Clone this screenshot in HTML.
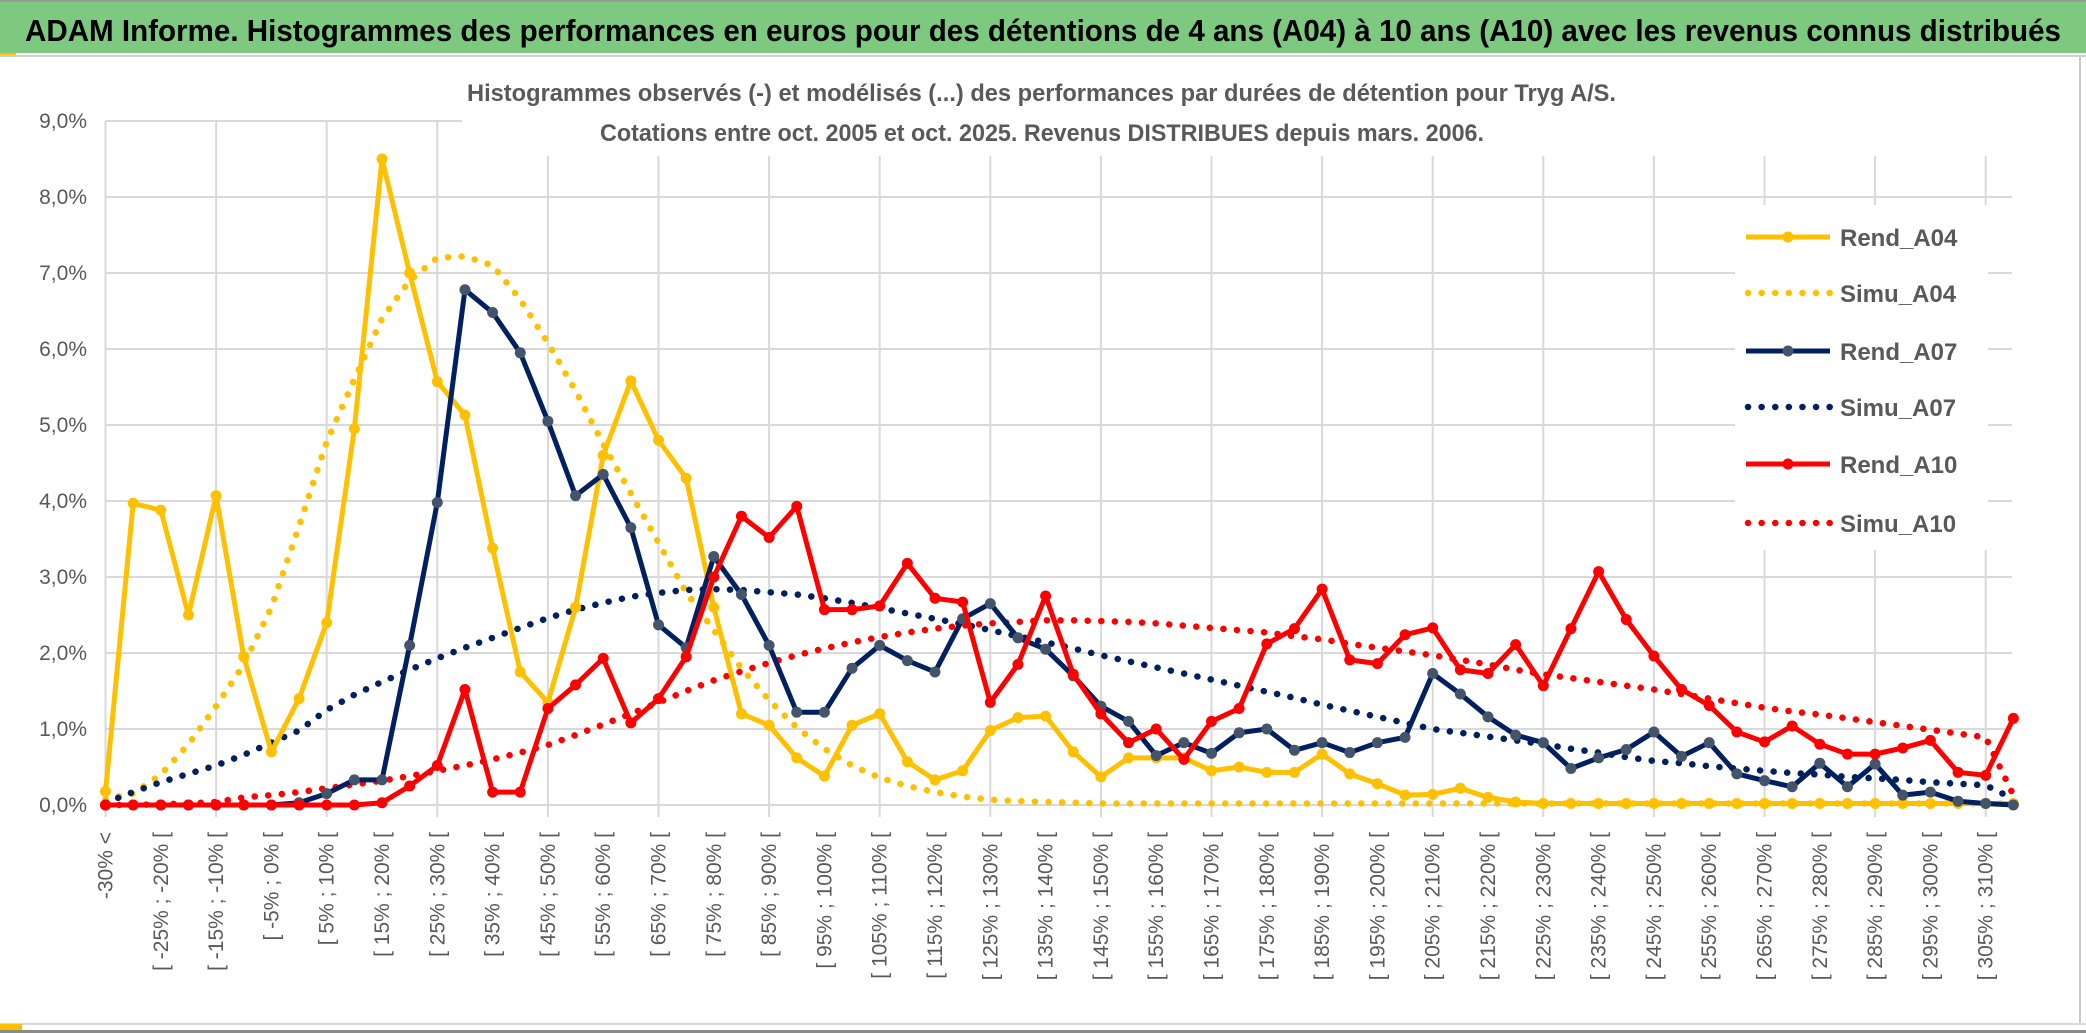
<!DOCTYPE html>
<html><head><meta charset="utf-8"><style>
html,body{margin:0;padding:0;background:#fff;}
svg{display:block;font-family:"Liberation Sans",sans-serif;}
</style></head><body>
<svg id="chart" width="2086" height="1033" viewBox="0 0 2086 1033" xmlns="http://www.w3.org/2000/svg">
<rect x="0" y="0" width="2086" height="1033" fill="#fff"/>
<rect x="0" y="0" width="2086" height="2" fill="#9a9a9a"/>
<rect x="0" y="2" width="2086" height="51" fill="#7dc97f"/>
<rect x="0" y="53" width="16" height="3" fill="#ffc000"/>
<rect x="0" y="55" width="2086" height="2" fill="#d0d0d0"/>
<text x="25" y="41" font-size="31" font-weight="bold" fill="#000" textLength="2036" lengthAdjust="spacingAndGlyphs">ADAM Informe. Histogrammes des performances en euros pour des détentions de 4 ans (A04) à 10 ans (A10) avec les revenus connus distribués</text>
<rect x="2079" y="57" width="2" height="968" fill="#c8c8c8"/>
<rect x="0" y="1023" width="2086" height="2" fill="#d8d8d8"/>
<rect x="0" y="1030" width="2086" height="3" fill="#8a8a8a"/>
<rect x="0" y="1024" width="22" height="6" fill="#ffc000"/>
<g id="grid"></g>
<rect x="462" y="72" width="1560" height="84" fill="#fff"/>
<g id="series"></g>
<g id="axes"></g>
<text x="467" y="101" font-size="24" font-weight="bold" fill="#595959" textLength="1149" lengthAdjust="spacingAndGlyphs">Histogrammes observés (-) et modélisés (...) des performances par durées de détention pour Tryg A/S.</text>
<text x="600" y="141" font-size="24" font-weight="bold" fill="#595959" textLength="884" lengthAdjust="spacingAndGlyphs">Cotations entre oct. 2005 et oct. 2025. Revenus DISTRIBUES depuis mars. 2006.</text>
<g id="legend"></g>
</svg>
<script>
// ---- data ----
const categories = [];
categories.push("-30% <");
for (let k = 1; k <= 69; k++) { categories.push("[ " + (-35 + 5 * k) + "% ; " + (-30 + 5 * k) + "% ["); }
const yTicks = [0, 1, 2, 3, 4, 5, 6, 7, 8, 9];
const yTickLabels = ["0,0%", "1,0%", "2,0%", "3,0%", "4,0%", "5,0%", "6,0%", "7,0%", "8,0%", "9,0%"];
const rendA04 = [0.18,3.97,3.88,2.5,4.07,1.95,0.7,1.4,2.4,4.95,8.5,7.0,5.57,5.13,3.38,1.75,1.35,2.6,4.6,5.58,4.8,4.3,2.6,1.2,1.05,0.62,0.38,1.05,1.2,0.57,0.33,0.45,0.98,1.15,1.17,0.7,0.37,0.62,0.62,0.62,0.45,0.5,0.43,0.43,0.67,0.41,0.28,0.13,0.14,0.22,0.1,0.04,0.02,0.02,0.02,0.02,0.02,0.02,0.02,0.02,0.02,0.02,0.02,0.02,0.02,0.02,0.02,0.02,0.02,0.02];
const rendA07 = [0,0,0,0,0,0,0,0.03,0.15,0.33,0.33,2.1,3.98,6.78,6.48,5.95,5.05,4.07,4.35,3.65,2.37,2.07,3.27,2.77,2.1,1.22,1.22,1.8,2.1,1.9,1.75,2.45,2.65,2.2,2.05,1.7,1.3,1.1,0.65,0.82,0.68,0.95,1.0,0.72,0.82,0.69,0.82,0.89,1.73,1.46,1.16,0.92,0.82,0.48,0.62,0.73,0.96,0.64,0.82,0.41,0.32,0.24,0.55,0.24,0.54,0.13,0.17,0.05,0.02,0.0];
const rendA10 = [0,0,0,0,0,0,0,0,0,0,0.03,0.25,0.52,1.52,0.17,0.17,1.27,1.58,1.93,1.08,1.4,1.95,3.0,3.8,3.52,3.93,2.57,2.57,2.62,3.18,2.72,2.67,1.35,1.85,2.75,1.72,1.2,0.82,1.0,0.6,1.1,1.27,2.12,2.32,2.84,1.91,1.86,2.24,2.33,1.78,1.73,2.11,1.57,2.32,3.07,2.44,1.96,1.52,1.31,0.96,0.83,1.04,0.8,0.67,0.67,0.75,0.85,0.43,0.39,1.14];
const simuA04 = [0.08,0.15,0.4,0.8,1.3,1.85,2.6,3.67,4.78,5.6,6.4,6.9,7.2,7.22,7.1,6.65,6.08,5.45,4.75,4.1,3.45,2.8,2.3,1.8,1.38,1.02,0.74,0.52,0.36,0.25,0.17,0.11,0.07,0.05,0.04,0.03,0.02,0.02,0.02,0.02,0.02,0.02,0.02,0.02,0.02,0.02,0.02,0.02,0.02,0.02,0.02,0.02,0.02,0.02,0.02,0.02,0.02,0.02,0.02,0.02,0.02,0.02,0.02,0.02,0.02,0.02,0.02,0.02,0.02,0.02];
const simuA07 = [0.03,0.17,0.3,0.41,0.52,0.66,0.82,0.98,1.25,1.45,1.62,1.78,1.93,2.07,2.2,2.33,2.46,2.57,2.66,2.74,2.79,2.83,2.84,2.83,2.8,2.77,2.72,2.66,2.59,2.52,2.45,2.38,2.3,2.22,2.14,2.06,1.97,1.89,1.81,1.73,1.65,1.57,1.49,1.41,1.32,1.24,1.16,1.08,1.0,0.95,0.9,0.85,0.8,0.74,0.69,0.63,0.58,0.55,0.51,0.48,0.45,0.42,0.4,0.37,0.35,0.33,0.3,0.28,0.26,0.08];
const simuA10 = [0,0,0.01,0.02,0.04,0.1,0.13,0.17,0.22,0.27,0.32,0.38,0.45,0.52,0.6,0.69,0.79,0.92,1.06,1.2,1.35,1.5,1.64,1.76,1.87,1.97,2.06,2.14,2.21,2.27,2.32,2.36,2.39,2.41,2.43,2.43,2.42,2.41,2.39,2.36,2.33,2.3,2.27,2.22,2.18,2.12,2.07,2.02,1.97,1.91,1.85,1.78,1.72,1.67,1.62,1.57,1.52,1.46,1.4,1.34,1.28,1.23,1.19,1.14,1.09,1.04,0.99,0.94,0.89,0.13];

// ---- axes ----
const X0 = 105.5, DX = 27.65, Y0 = 805, DY = 76;
function xPos(i) { return X0 + i * DX; }
function yPos(v) { return Y0 - v * DY; }
const NS = "http://www.w3.org/2000/svg";
function mk(tag, attrs, parent) {
  const e = document.createElementNS(NS, tag);
  for (const k in attrs) e.setAttribute(k, attrs[k]);
  parent.appendChild(e);
  return e;
}
const grid = document.getElementById("grid");
const axes = document.getElementById("axes");
const series = document.getElementById("series");
const legend = document.getElementById("legend");
const plotRight = 2012;

yTicks.forEach(function (t, k) {
  const g = mk("line", { x1: X0, x2: plotRight, y1: yPos(t), y2: yPos(t), stroke: "#d9d9d9", "stroke-width": 2 }, grid);
  
  
  const lb = mk("text", { x: 87, y: yPos(t) + 7, "text-anchor": "end", "font-size": 21, fill: "#595959" }, axes);
  lb.textContent = yTickLabels[k];
  
  
});
for (let i = 0; i < categories.length; i += 4) {
  const g = mk("line", { x1: xPos(i), x2: xPos(i), y1: yPos(9), y2: Y0 + 12, stroke: "#d9d9d9", "stroke-width": 2 }, grid);
  
  
}
for (let i = 0; i < categories.length - 1; i += 2) {
  const tx = xPos(i) + 7, ty = 832;
  const lb = mk("text", { x: tx, y: ty, "text-anchor": "end", "font-size": 21, fill: "#595959", transform: "rotate(-90 " + tx + " " + ty + ")" }, axes);
  lb.textContent = categories[i];
  
  
}

function pts(arr) { return arr.map(function (v, i) { return xPos(i) + "," + yPos(v); }).join(" "); }
function dotted(arr, color, name) {
  const p = mk("polyline", { points: pts(arr), fill: "none", stroke: color, "stroke-width": 6.5, "stroke-linecap": "round", "stroke-dasharray": "0.1 13.5" }, series);
  
  
}
function solid(arr, color, mcolor, name) {
  const p = mk("polyline", { points: pts(arr), fill: "none", stroke: color, "stroke-width": 5, "stroke-linejoin": "round" }, series);
  
  
  arr.forEach(function (v, i) {
    const c = mk("circle", { cx: xPos(i), cy: yPos(v), r: 5.5, fill: mcolor }, series);
    
    
  });
}
dotted(simuA04, "#ffc000", "simu-a04-line");
dotted(simuA07, "#002060", "simu-a07-line");
dotted(simuA10, "#ff0000", "simu-a10-line");
solid(rendA04, "#ffc000", "#ffc000", "rend-a04-line");
solid(rendA07, "#002060", "#44546a", "rend-a07-line");
solid(rendA10, "#ff0000", "#ff0000", "rend-a10-line");

// ---- legend ----
const lbg = mk("rect", { x: 1735, y: 205, width: 253, height: 345, fill: "#fff" }, legend);


const legNames = ["Rend_A04", "Simu_A04", "Rend_A07", "Simu_A07", "Rend_A10", "Simu_A10"];
const legColors = ["#ffc000", "#ffc000", "#002060", "#002060", "#ff0000", "#ff0000"];
const legMarker = ["#ffc000", null, "#44546a", null, "#ff0000", null];
const legY = [237, 293, 351, 407, 464, 523];
legNames.forEach(function (n, k) {
  const y = legY[k];
  let l;
  if (legMarker[k]) {
    l = mk("line", { x1: 1746, x2: 1830, y1: y, y2: y, stroke: legColors[k], "stroke-width": 5 }, legend);
    const c = mk("circle", { cx: 1788, cy: y, r: 5.5, fill: legMarker[k] }, legend);
    
    
  } else {
    l = mk("line", { x1: 1748, x2: 1830, y1: y, y2: y, stroke: legColors[k], "stroke-width": 6.5, "stroke-linecap": "round", "stroke-dasharray": "0.1 13.5" }, legend);
  }
  
  
  const t = mk("text", { x: 1840, y: y + 9, "font-size": 24, "font-weight": "bold", fill: "#595959" }, legend);
  t.textContent = n;
  
  
});
</script>
</body></html>
